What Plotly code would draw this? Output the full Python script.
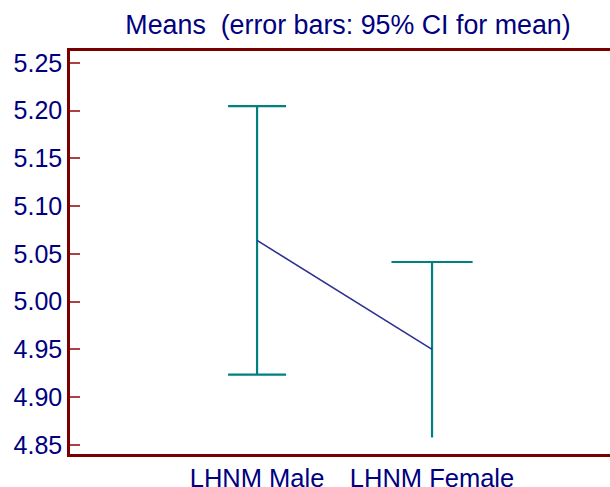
import plotly.graph_objects as go

categories = ["LHNM Male", "LHNM Female"]
means = [5.064, 4.950]
upper = [5.2046, 5.0414]
lower = [4.9234, 4.8577]
ytick_vals = [4.85, 4.90, 4.95, 5.00, 5.05, 5.10, 5.15, 5.20, 5.25]
ytick_text = ["4.85", "4.90", "4.95", "5.00", "5.05", "5.10", "5.15", "5.20", "5.25"]

NAVY = "#000080"
TEAL = "#008080"
LINE = "#2e3192"
AXIS = "#7a0000"

xpos = [0, 1]

fig = go.Figure()

# male CI with caps
fig.add_trace(go.Scatter(
    x=[xpos[0]], y=[means[0]], mode="none",
    error_y=dict(type="data", symmetric=False,
                 array=[upper[0] - means[0]], arrayminus=[means[0] - lower[0]],
                 color=TEAL, thickness=2.2, width=29),
    showlegend=False, hoverinfo="skip"))

# female CI whisker (no caps)
fig.add_trace(go.Scatter(
    x=[xpos[1]], y=[means[1]], mode="none",
    error_y=dict(type="data", symmetric=False,
                 array=[upper[1] - means[1]], arrayminus=[means[1] - lower[1]],
                 color=TEAL, thickness=2.2, width=0),
    showlegend=False, hoverinfo="skip"))

# female upper cap
fig.add_trace(go.Scatter(
    x=[xpos[1]], y=[upper[1]], mode="markers",
    marker=dict(symbol="line-ew", size=58, line=dict(color=TEAL, width=2.2)),
    showlegend=False, hoverinfo="skip"))

# means line
fig.add_trace(go.Scatter(
    x=xpos, y=means, mode="lines",
    line=dict(color=LINE, width=1.6),
    showlegend=False, hoverinfo="skip"))

fig.update_layout(
    width=610, height=487,
    margin=dict(l=70, r=0, t=51, b=33),
    paper_bgcolor="white", plot_bgcolor="white",
    hovermode=False,
    font=dict(family="Liberation Sans, Arial, sans-serif", color=NAVY),
    title=dict(text="Means&nbsp;&nbsp;(error bars: 95% CI for mean)",
               x=348 / 610, xanchor="center", y=1 - 25 / 487, yanchor="middle",
               font=dict(size=26.8, color=NAVY)),
)

fig.update_xaxes(
    range=[-1.069, 2.017], tickvals=xpos, ticktext=categories,
    showgrid=False, zeroline=False, ticks="", automargin=False,
    tickfont=dict(size=25.5, color=NAVY),
    showline=True, linecolor=AXIS, linewidth=2.5, mirror=True,
)
fig.update_yaxes(
    range=[4.8404, 5.2623], tickvals=ytick_vals, ticktext=ytick_text,
    showgrid=False, zeroline=False, automargin=False,
    ticks="inside", ticklen=10, tickcolor="#b04040", tickwidth=1.5,
    tickfont=dict(size=25, color=NAVY),
    showline=True, linecolor=AXIS, linewidth=2.5, mirror=True,
)

fig.write_html(
    "out.html",
    config={"displayModeBar": False},
    post_script="document.body.style.margin='0';document.body.style.overflow='hidden';",
)
